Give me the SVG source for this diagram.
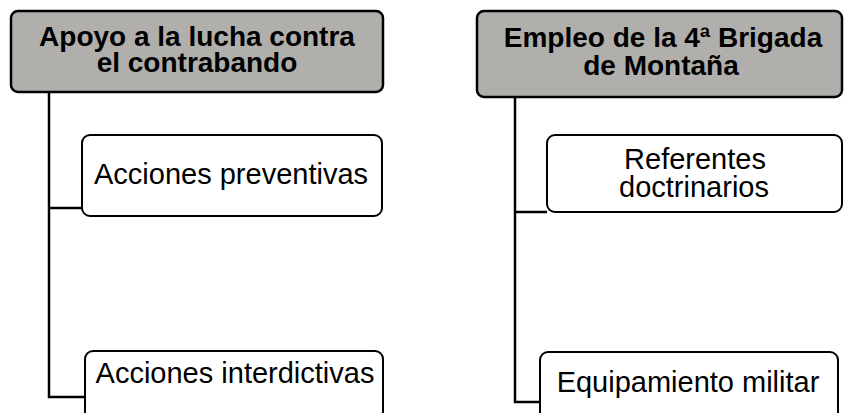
<svg xmlns="http://www.w3.org/2000/svg" width="844" height="413" viewBox="0 0 844 413">
<style>
.hdr{fill:#b1afac;stroke:#000;stroke-width:2.5}
.box{fill:#fff;stroke:#000;stroke-width:2}
.ht{font-family:"Liberation Sans",Arial,sans-serif;font-weight:bold;font-size:28px;fill:#000;text-anchor:middle}
.bt{font-family:"Liberation Sans",Arial,sans-serif;font-size:29px;fill:#000;text-anchor:middle}
.con{fill:none;stroke:#000;stroke-width:2.5}
</style>
<rect width="844" height="413" fill="#fff"/>
<g id="connectors">
<path class="con" d="M49 92 V397 H85 M49 208 H82"/>
<path class="con" d="M515 97 V402 H540 M515 212 H547"/>
</g>
<g id="n1">
<rect class="hdr" x="11" y="11" width="372" height="81" rx="7"/>
<text class="ht" x="197" y="46">Apoyo a la lucha contra</text>
<text class="ht" x="197" y="72">el contrabando</text>
</g>
<g id="n2">
<rect class="box" x="82" y="135" width="300" height="81" rx="8"/>
<text class="bt" x="231" y="184">Acciones preventivas</text>
</g>
<g id="n3">
<rect class="box" x="85" y="351" width="298" height="80" rx="8"/>
<text class="bt" x="235" y="383">Acciones interdictivas</text>
</g>
<g id="n4">
<rect class="hdr" x="477" y="11" width="365" height="86" rx="7"/>
<text class="ht" x="663" y="47">Empleo de la 4ª Brigada</text>
<text class="ht" x="661" y="75">de Montaña</text>
</g>
<g id="n5">
<rect class="box" x="547" y="135" width="295" height="77" rx="8"/>
<text class="bt" x="695" y="169">Referentes</text>
<text class="bt" x="694" y="197">doctrinarios</text>
</g>
<g id="n6">
<rect class="box" x="540" y="352" width="298" height="80" rx="8"/>
<text class="bt" x="688" y="392">Equipamiento militar</text>
</g>
</svg>
